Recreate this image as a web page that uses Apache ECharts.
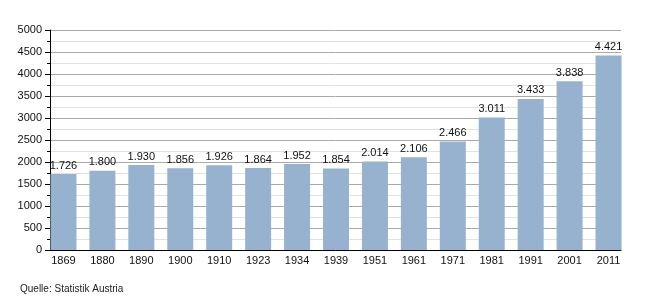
<!DOCTYPE html>
<html><head><meta charset="utf-8">
<script src="https://cdn.jsdelivr.net/npm/echarts@6/dist/echarts.min.js"></script>
<style>html,body{margin:0;padding:0;background:#fff}#c{width:650px;height:300px}</style>
</head><body><div id="c"></div>
<script>
const years = ['1869','1880','1890','1900','1910','1923','1934','1939','1951','1961','1971','1981','1991','2001','2011'];
const population = [1726,1800,1930,1856,1926,1864,1952,1854,2014,2106,2466,3011,3433,3838,4421];
const yMin = 0, yMax = 5000, yStep = 500;
const source = 'Quelle: Statistik Austria';

const fmt = v => { const s = String(v); return s.length > 3 ? s.slice(0, s.length-3) + '.' + s.slice(-3) : s; };
const font = 'Liberation Sans, Arial, sans-serif';
const chart = echarts.init(document.getElementById('c'), null, {renderer:'canvas'});
chart.setOption({
  animation: false,
  backgroundColor: '#fff',
  graphic: [{type:'text', left: 20, top: 284, style:{text: source, font: '10px ' + font, fill:'#222'}}],
  grid: [
    {left: 50, right: 29, top: 30, bottom: 50},
    {left: 44, right: 22, top: 30, bottom: 50}
  ],
  xAxis: [
    {gridIndex: 0, type: 'value', min: 0, max: 1, axisLine:{show:true, lineStyle:{color:'#000', width:1}}, axisTick:{show:false}, axisLabel:{show:false}, splitLine:{show:false}},
    {gridIndex: 1, type: 'category', data: years, axisLine:{show:false}, axisTick:{show:false},
     axisLabel:{color:'#111', fontSize: 11, fontFamily: font, margin: 5}}
  ],
  yAxis: [
    {gridIndex: 0, type: 'value', min: yMin, max: yMax, interval: yStep,
     axisLine:{show:true, lineStyle:{color:'#000'}},
     axisTick:{show:true, length:5, lineStyle:{color:'#000'}},
     minorTick:{show:true, splitNumber:2, length:3, lineStyle:{color:'#000'}},
     axisLabel:{color:'#111', fontSize: 11, fontFamily: font, margin: 8, formatter: v => String(v)},
     splitLine:{show:true, lineStyle:{color:'#aaa', width:1}},
     minorSplitLine:{show:true, lineStyle:{color:'#e2e2e2', width:1}}},
    {gridIndex: 1, type: 'value', min: yMin, max: yMax, show: false}
  ],
  series: [{
    type: 'bar', xAxisIndex: 1, yAxisIndex: 1, data: population,
    barWidth: 26,
    itemStyle:{color:'#96b2cf'},
    label:{show:true, position:'top', distance: 3, color:'#111', fontSize: 11, fontFamily: font, formatter: p => fmt(p.value)}
  }]
});
</script></body></html>
